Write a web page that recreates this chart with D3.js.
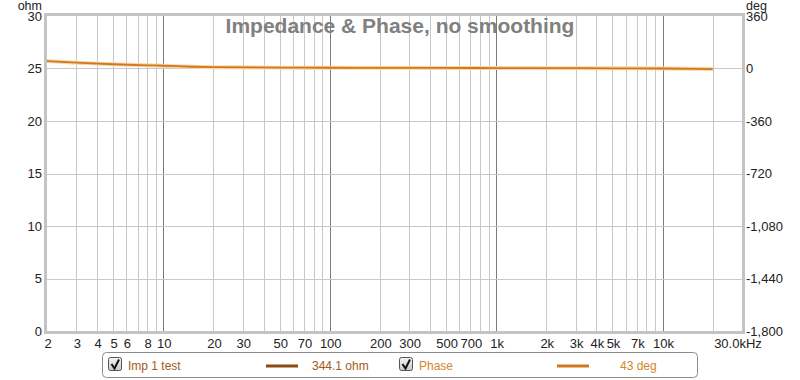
<!doctype html>
<html>
  <head>
    <script src="https://cdnjs.cloudflare.com/ajax/libs/d3/7.8.5/d3.min.js"></script>
    <style>
      body { margin: 0; background: #fff; }
      svg { font-family: "Liberation Sans", Arial, sans-serif; }
    </style>
  </head>
  <body>
    <svg id="chart" width="800" height="380"></svg>
    <script>
      var freqs    = [2, 3, 5, 8, 10, 15, 20, 50, 100, 200, 500, 1000, 2000, 5000, 10000, 20000];
      var phaseDeg = [51, 40, 29, 22, 19, 12, 9, 6, 5, 4.5, 4, 3, 2.5, 1.5, 0, -4];
      var impOhm   = [344, 344, 344, 344, 344, 344, 344, 344, 344, 344, 344, 344, 344, 344, 344, 344];

      var xTicks = [2, 3, 4, 5, 6, 8, 10, 20, 30, 50, 70, 100, 200, 300, 500, 700,
                    1000, 2000, 3000, 4000, 5000, 7000, 10000];
      var xTickLabels = ["2", "3", "4", "5", "6", "8", "10", "20", "30", "50", "70", "100", "200", "300", "500", "700",
                         "1k", "2k", "3k", "4k", "5k", "7k", "10k"];
      var ohmTicks = [0, 5, 10, 15, 20, 25, 30];
      var degTicks = [-1800, -1440, -1080, -720, -360, 0, 360];

      var pLeft = 47, pRight = 742, pTop = 16, pBottom = 331;
      var svg = d3.select("#chart");

      var x = d3.scaleLog().domain([2, 30000]).range([pLeft, pRight]);
      var yOhm = d3.scaleLinear().domain([0, 30]).range([pBottom, pTop]);
      var yDeg = d3.scaleLinear().domain([-1800, 360]).range([pBottom, pTop]);

      // vertical grid: every 1..9 multiple per decade
      var grid = [];
      [1, 10, 100, 1000, 10000].forEach(function(dec) {
        for (var m = 1; m <= 9; m++) {
          var f = dec * m;
          if (f > 2 && f < 30000) grid.push(f);
        }
      });

      svg.append("g").selectAll("line")
        .data(grid)
        .enter().append("line")
          .attr("x1", d => Math.round(x(d)) + 0.5)
          .attr("x2", d => Math.round(x(d)) + 0.5)
          .attr("y1", pTop).attr("y2", pBottom)
          .attr("stroke", d => [10, 100, 1000, 10000].indexOf(d) >= 0 ? "#7a7a7a" : "#c8c8c8")
          .attr("stroke-width", 1);

      svg.append("g").selectAll("line")
        .data(ohmTicks.slice(1, -1))
        .enter().append("line")
          .attr("x1", pLeft).attr("x2", pRight)
          .attr("y1", d => Math.round(yOhm(d)) + 0.5)
          .attr("y2", d => Math.round(yOhm(d)) + 0.5)
          .attr("stroke", "#c8c8c8");

      // title (sits above the grid)
      svg.append("text")
        .attr("x", 400).attr("y", 33)
        .attr("text-anchor", "middle")
        .attr("font-size", 21).attr("font-weight", "bold")
        .attr("fill", "#808080")
        .text("Impedance & Phase, no smoothing");

      // curves
      svg.append("clipPath").attr("id", "plot")
        .append("rect").attr("x", pLeft).attr("y", pTop)
        .attr("width", pRight - pLeft).attr("height", pBottom - pTop);

      var pts = freqs.map((f, i) => ({f: f, p: phaseDeg[i], z: impOhm[i]}));

      var impLine = d3.line().curve(d3.curveMonotoneX)
        .x(d => x(d.f)).y(d => yOhm(d.z));
      var phaseLine = d3.line().curve(d3.curveMonotoneX)
        .x(d => x(d.f)).y(d => yDeg(d.p));

      var curves = svg.append("g").attr("clip-path", "url(#plot)");
      curves.append("path").datum(pts)
        .attr("d", impLine).attr("fill", "none")
        .attr("stroke", "#8b4a12").attr("stroke-width", 2);
      curves.append("path").datum(pts)
        .attr("d", phaseLine).attr("fill", "none")
        .attr("stroke", "#f8d6ab").attr("stroke-width", 4);
      curves.append("path").datum(pts)
        .attr("d", phaseLine).attr("fill", "none")
        .attr("stroke", "#d2781c").attr("stroke-width", 1.8);

      // frame
      svg.append("rect")
        .attr("x", pLeft - 1.5).attr("y", pTop - 1.5)
        .attr("width", pRight - pLeft + 3).attr("height", pBottom - pTop + 3)
        .attr("fill", "none").attr("stroke", "#c4c4c4").attr("stroke-width", 3);

      // left axis
      svg.append("g").selectAll("text")
        .data(ohmTicks)
        .enter().append("text")
          .attr("x", 42).attr("y", d => yOhm(d) + 4.5)
          .attr("text-anchor", "end")
          .attr("font-size", 13).attr("fill", "#222")
          .text(d => d);
      svg.append("text").attr("x", 42).attr("y", 10)
        .attr("text-anchor", "end").attr("font-size", 12.5).attr("fill", "#222")
        .text("ohm");

      // right axis
      var fmt = d3.format(",");
      svg.append("g").selectAll("text")
        .data(degTicks)
        .enter().append("text")
          .attr("x", 746).attr("y", d => yDeg(d) + 4.5)
          .attr("font-size", 13).attr("fill", "#222")
          .text(d => fmt(d).replace("−", "-"));
      svg.append("text").attr("x", 746).attr("y", 10)
        .attr("font-size", 12.5).attr("fill", "#222")
        .text("deg");

      // bottom axis
      svg.append("g").selectAll("text")
        .data(xTicks)
        .enter().append("text")
          .attr("x", d => x(d) + 1).attr("y", 348)
          .attr("text-anchor", "middle")
          .attr("font-size", 13).attr("fill", "#222")
          .text((d, i) => xTickLabels[i]);
      svg.append("text").attr("x", 738).attr("y", 348)
        .attr("text-anchor", "middle").attr("font-size", 13).attr("fill", "#222")
        .text("30.0kHz");

      // legend
      var legend = svg.append("g");
      legend.append("rect")
        .attr("x", 102.5).attr("y", 352.5).attr("width", 595).attr("height", 25)
        .attr("rx", 4).attr("fill", "#fff").attr("stroke", "#8c8c8c");

      var legendItems = [
        {cx: 108, label: "Imp 1 test", lx: 128, sx: 266, val: "344.1 ohm", vx: 312, text: "#a25a1a", line: "#8b4a12"},
        {cx: 399, label: "Phase", lx: 419, sx: 557, val: "43 deg", vx: 620, text: "#d2862e", line: "#d2781c"}
      ];
      var grad = svg.append("defs").append("linearGradient").attr("id", "cb")
        .attr("x1", 0).attr("y1", 0).attr("x2", 0).attr("y2", 1);
      grad.append("stop").attr("offset", 0).attr("stop-color", "#f4f4f4");
      grad.append("stop").attr("offset", 1).attr("stop-color", "#c8c8c8");

      var item = legend.selectAll("g.item").data(legendItems).enter()
        .append("g").attr("class", "item");
      item.append("rect")
        .attr("x", d => d.cx + 0.5).attr("y", 357.5).attr("width", 13).attr("height", 13)
        .attr("rx", 2).attr("fill", "url(#cb)").attr("stroke", "#555");
      item.append("path")
        .attr("d", d => "M" + (d.cx + 3.5) + ",364 L" + (d.cx + 6.5) + ",368.5 L" + (d.cx + 11) + ",359.5")
        .attr("fill", "none").attr("stroke", "#111").attr("stroke-width", 2);
      item.append("text")
        .attr("x", d => d.lx).attr("y", 370)
        .attr("font-size", 12).attr("fill", d => d.text)
        .text(d => d.label);
      item.append("line")
        .attr("x1", d => d.sx).attr("x2", d => d.sx + 32)
        .attr("y1", 366).attr("y2", 366)
        .attr("stroke", d => d.line).attr("stroke-width", 3);
      item.append("text")
        .attr("x", d => d.vx).attr("y", 370)
        .attr("font-size", 12).attr("fill", d => d.text)
        .text(d => d.val);
    </script>
  </body>
</html>
